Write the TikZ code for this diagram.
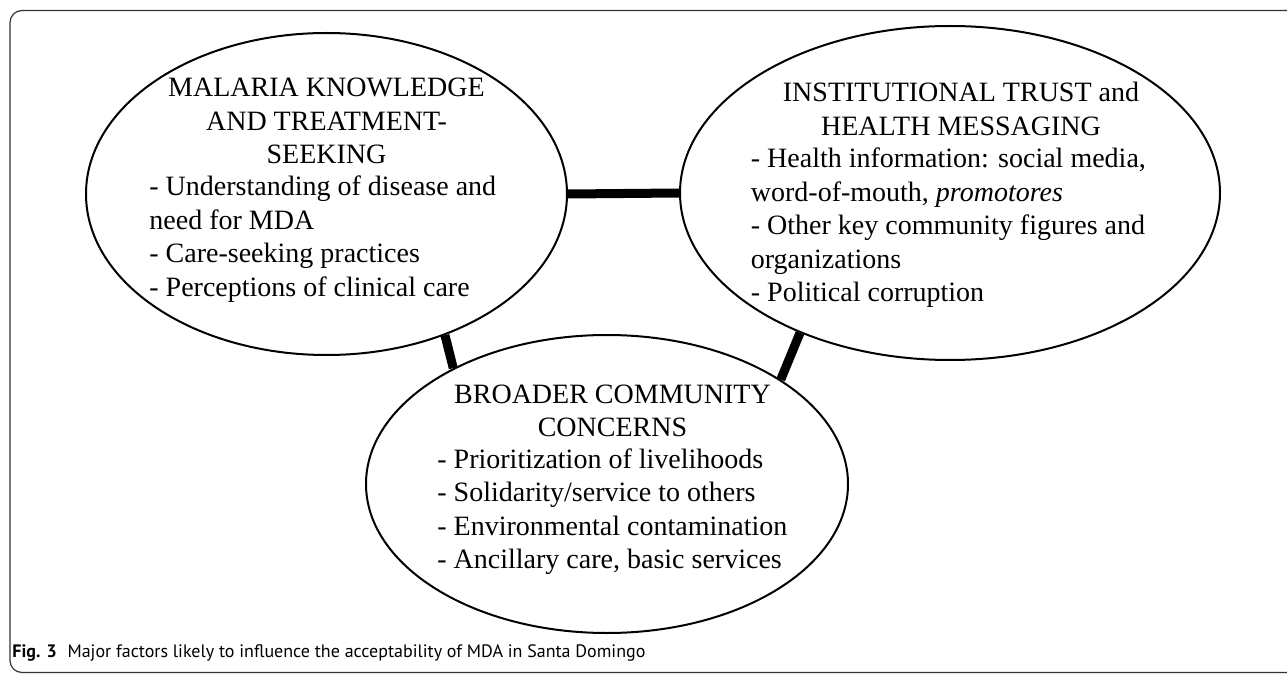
\documentclass[tikz,border=0pt]{standalone}
\usepackage{fontspec}
\setmainfont{Liberation Serif}
\newfontfamily\capfont{PT Sans}
\usetikzlibrary{shapes.geometric}

\begin{document}
\begin{tikzpicture}[x=0.5pt,y=-0.5pt,
  factor/.style={draw,ellipse,line width=1pt,inner sep=0pt},
  txt/.style={inner sep=0pt,font=\fontsize{14}{16.75}\selectfont},
  link/.style={line width=4.5pt}]
  \useasboundingbox (0,0) rectangle (1287,674);
  % frame
  \draw[black!80,line width=0.6pt,rounded corners=6pt] (1300,10.5) -- (10,10.5) -- (10,672.5) -- (1300,672.5);
  % the three factors
  \node[factor,minimum width=240.5pt,minimum height=161pt] (know) at (326.5,194) {};
  \node[factor,minimum width=270pt,minimum height=167pt] (trust) at (950,193) {};
  \node[factor,minimum width=241pt,minimum height=149pt] (comm) at (607,484) {};
  % links
  \draw[link] (know.east) -- (trust.west);
  \draw[link] (know.-50.4) -- (comm.143.3);
  \draw[link] (trust.-137.4) -- (comm.31.8);
  % texts
  \node[txt,anchor=base] (knowhead) at (326.5,97) {\begin{tabular}[t]{@{}c@{}}MALARIA KNOWLEDGE\\AND TREATMENT-\\SEEKING\end{tabular}};
  \node[txt,anchor=base west] (knowlist) at (149,196) {\begin{tabular}[t]{@{}l@{}}- Understanding of disease and\\need for MDA\\- Care-seeking practices\\- Perceptions of clinical care\end{tabular}};
  \node[txt,anchor=base] (trusthead) at (961,101.7) {\begin{tabular}[t]{@{}c@{}}INSTITUTIONAL TRUST and\\HEALTH MESSAGING\end{tabular}};
  \node[txt,anchor=base west] (trustlist) at (750.5,168) {\begin{tabular}[t]{@{}l@{}}- Health information: social media,\\word-of-mouth, \textit{promotores}\\- Other key community figures and\\organizations\\- Political corruption\end{tabular}};
  \node[txt,anchor=base] (commhead) at (612.5,403) {\begin{tabular}[t]{@{}c@{}}BROADER COMMUNITY\\CONCERNS\end{tabular}};
  \node[txt,anchor=base west] (commlist) at (437,468) {\begin{tabular}[t]{@{}l@{}}- Prioritization of livelihoods\\- Solidarity/service to others\\- Environmental contamination\\- Ancillary care, basic services\end{tabular}};
  % caption
  \node[inner sep=0pt,anchor=base west,font=\capfont\fontsize{9}{11}\selectfont] (cap) at (12,657) {\textbf{Fig. 3}\hspace{0.6em}Major factors likely to influence the acceptability of MDA in Santa Domingo};
\end{tikzpicture}
\end{document}
